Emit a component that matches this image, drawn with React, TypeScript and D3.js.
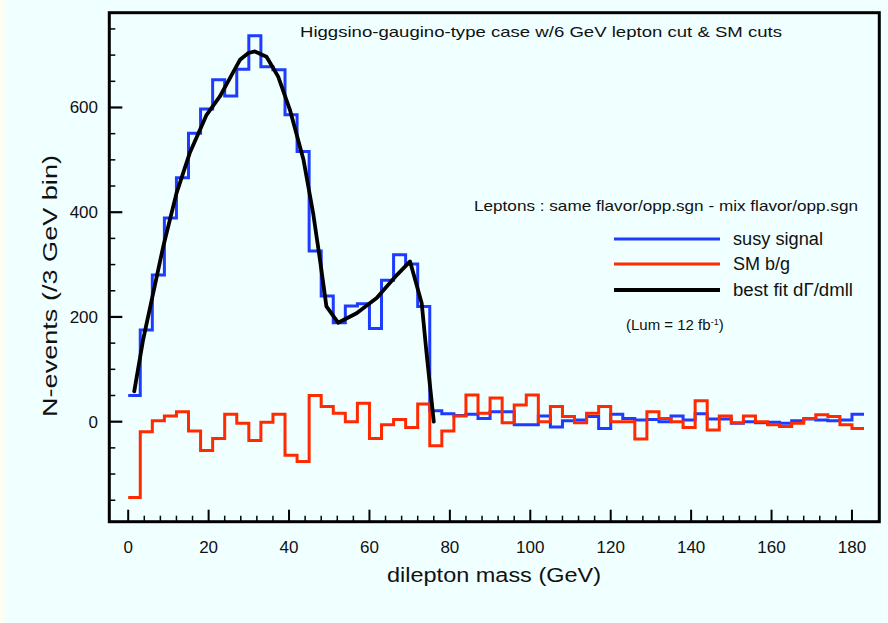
import React from "react";
import * as d3 from "d3";

const BIN_WIDTH = 3;
const susySignal = [
  50, 175, 280, 389, 466, 551, 597, 653, 622, 673,
  737, 678, 672, 586, 516, 326, 240, 189, 221, 225,
  178, 270, 319, 301, 220, 21, 15, 12, 14, 6,
  19, 19, -6, -6, 11, -10, 2, 3, 10, -13,
  14, 6, 3, 4, 0, 11, 3, 15, 5, 5,
  -3, 0, -2, -1, -3, 2, 5, 3, 2, 3,
  14,
];
const smBackground = [
  -145, -19, 2, 11, 19, -18, -55, -32, 14, -3,
  -36, -1, 14, -64, -76, 50, 29, 16, 0, 35,
  -32, -6, 4, -11, 34, -46, -18, 11, 51, 16,
  45, -2, 32, 51, 0, 29, 10, -2, 16, 29,
  0, 0, -33, 19, 6, 0, -11, 40, -16, 11,
  -2, 11, 0, -6, -9, -3, 6, 13, 10, -6,
  -13,
];
const fitMass = [1.5, 3.7, 6.2, 8.7, 12, 15.3, 19.5, 22.8, 25.3, 27.8, 29.9, 31.5, 34.4, 37.3, 40.2, 43.6, 46, 47.7, 49.3, 52.2, 56.8, 61.8, 66.8, 70.1, 73, 74.2, 76];
const fitValue = [58, 156, 245, 334, 436, 513, 586, 621, 656, 691, 704, 707, 697, 659, 596, 500, 398, 309, 220, 189, 207, 236, 280, 306, 226, 131, 0];

const xMajorTicks = [0, 20, 40, 60, 80, 100, 120, 140, 160, 180];
const yMajorTicks = [0, 200, 400, 600];

const BLUE = "#1d3cff";
const RED = "#ff2a00";
const FONT = "'Liberation Sans', Arial, Helvetica, sans-serif";

function stepPoints(values: number[]): [number, number][] {
  const pts: [number, number][] = values.map((v, i) => [i * BIN_WIDTH, v]);
  pts.push([values.length * BIN_WIDTH, values[values.length - 1]]);
  return pts;
}

export default function App() {
  const W = 888, H = 623;
  const x = d3.scaleLinear().domain([-4.7, 186.8]).range([109.3, 879.3]);
  const y = d3.scaleLinear().domain([-191, 781]).range([521.7, 12.7]);

  const step = d3.line<[number, number]>().x(d => x(d[0])).y(d => y(d[1])).curve(d3.curveStepAfter);
  const lin = d3.line<[number, number]>().x(d => x(d[0])).y(d => y(d[1])).curve(d3.curveLinear);
  const fitPts: [number, number][] = fitMass.map((m, i) => [m, fitValue[i]]);

  const xMinor = d3.range(0, 184, 4).filter(v => v % 20 !== 0);
  const yMinor = d3.range(-150, 780, 50).filter(v => v % 200 !== 0);
  const [x0, x1] = x.range();
  const [yb, yt] = y.range();

  return (
    <svg width={W} height={H} style={{ position: "fixed", left: 0, top: 0, display: "block" }} fontFamily={FONT}>
      <rect x={0} y={0} width={W} height={H} fill="#f0ffff" />
      <rect x={0} y={0} width={5} height={H} fill="#fdfdf2" />
      <clipPath id="plotclip">
        <rect x={x0} y={yt} width={x1 - x0} height={yb - yt} />
      </clipPath>
      <g clipPath="url(#plotclip)">
        <path d={step(stepPoints(susySignal)) || ""} fill="none" stroke={BLUE} strokeWidth={3} />
        <path d={step(stepPoints(smBackground)) || ""} fill="none" stroke={RED} strokeWidth={3} />
        <path d={lin(fitPts) || ""} fill="none" stroke="#000" strokeWidth={3.8} strokeLinejoin="round" strokeLinecap="round" />
      </g>
      {xMajorTicks.map(t => (
        <line key={"xM" + t} x1={x(t)} x2={x(t)} y1={yb} y2={yb - 12} stroke="#000" strokeWidth={2} />
      ))}
      {xMinor.map(t => (
        <line key={"xm" + t} x1={x(t)} x2={x(t)} y1={yb} y2={yb - 6} stroke="#000" strokeWidth={1.5} />
      ))}
      {yMajorTicks.map(t => (
        <line key={"yM" + t} x1={x0} x2={x0 + 13} y1={y(t)} y2={y(t)} stroke="#000" strokeWidth={2.2} />
      ))}
      {yMinor.map(t => (
        <line key={"ym" + t} x1={x0} x2={x0 + 6} y1={y(t)} y2={y(t)} stroke="#000" strokeWidth={1.5} />
      ))}
      <rect x={x0} y={yt} width={x1 - x0} height={yb - yt} fill="none" stroke="#000" strokeWidth={3} />
      {xMajorTicks.map(t => (
        <text key={"xl" + t} x={x(t)} y={553} textAnchor="middle" fontSize={17} fill="#111">{t}</text>
      ))}
      {yMajorTicks.map(t => (
        <text key={"yl" + t} x={98} y={y(t) + 6} textAnchor="end" fontSize={17} fill="#111">{t}</text>
      ))}
      <text x={494} y={582} textAnchor="middle" fontSize={20} fill="#111" textLength={214} lengthAdjust="spacingAndGlyphs">dilepton mass (GeV)</text>
      <text transform="translate(57,286) rotate(-90)" textAnchor="middle" fontSize={21} fill="#111" textLength={262} lengthAdjust="spacingAndGlyphs">N-events (/3 GeV bin)</text>
      <text x={300} y={37} fontSize={15} fill="#111" textLength={482} lengthAdjust="spacingAndGlyphs">Higgsino-gaugino-type case w/6 GeV lepton cut &amp; SM cuts</text>
      <text x={474} y={211} fontSize={15} fill="#111" textLength={384} lengthAdjust="spacingAndGlyphs">Leptons : same flavor/opp.sgn - mix flavor/opp.sgn</text>
      <line x1={614} x2={720} y1={239} y2={239} stroke={BLUE} strokeWidth={3} />
      <line x1={614} x2={720} y1={264} y2={264} stroke={RED} strokeWidth={3} />
      <line x1={614} x2={720} y1={290} y2={290} stroke="#000" strokeWidth={3.8} />
      <text x={733} y={245} fontSize={18} fill="#111" textLength={90} lengthAdjust="spacingAndGlyphs">susy signal</text>
      <text x={733} y={270} fontSize={18} fill="#111">SM b/g</text>
      <text x={733} y={296} fontSize={18} fill="#111" textLength={120} lengthAdjust="spacingAndGlyphs">best fit dΓ/dmll</text>
      <text x={626} y={330} fontSize={15} fill="#111">
        (Lum = 12 fb<tspan fontSize={9} dy={-5}>-1</tspan><tspan dy={5}>)</tspan>
      </text>
    </svg>
  );
}
